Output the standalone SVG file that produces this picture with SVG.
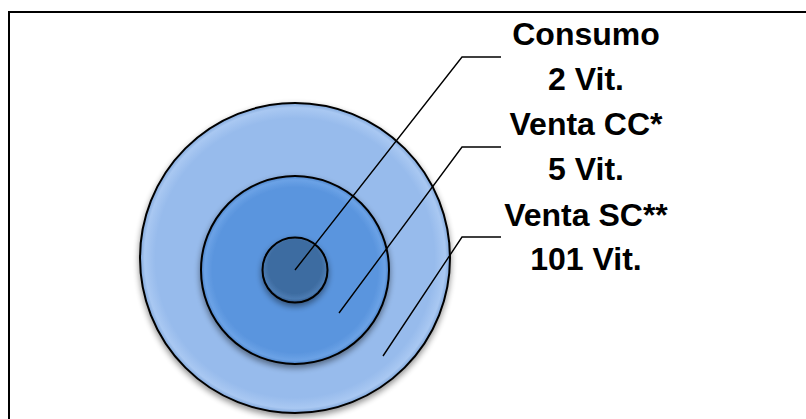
<svg xmlns="http://www.w3.org/2000/svg" width="806" height="419" viewBox="0 0 806 419">
  <style>
    .ring { stroke: #000; stroke-width: 2; }
    .lbl { font-family: "Liberation Sans", Arial, sans-serif; font-weight: bold; font-size: 32px; fill: #000; text-anchor: middle; }
    .conn { fill: none; stroke: #000; stroke-width: 1.4; }
    .frame { fill: none; stroke: #000; stroke-width: 2; }
  </style>
  <defs>
    <filter id="shadow" x="-20%" y="-20%" width="140%" height="140%">
      <feGaussianBlur in="SourceAlpha" stdDeviation="3"/>
      <feOffset dx="0" dy="3" result="b"/>
      <feComponentTransfer><feFuncA type="linear" slope="0.45"/></feComponentTransfer>
      <feMerge><feMergeNode/><feMergeNode in="SourceGraphic"/></feMerge>
    </filter>
    <radialGradient id="gOuter" cx="0.5" cy="0.5" r="0.5">
      <stop offset="0.9" stop-color="#97BBEC"/>
      <stop offset="0.97" stop-color="#A9C8F2"/>
      <stop offset="1" stop-color="#7FA6DA"/>
    </radialGradient>
    <radialGradient id="gMid" cx="0.5" cy="0.5" r="0.5">
      <stop offset="0.88" stop-color="#5A95DE"/>
      <stop offset="0.96" stop-color="#6BA2E6"/>
      <stop offset="1" stop-color="#4B82C8"/>
    </radialGradient>
    <radialGradient id="gInner" cx="0.5" cy="0.45" r="0.55">
      <stop offset="0.75" stop-color="#3E6CA1"/>
      <stop offset="0.9" stop-color="#4B7BB2"/>
      <stop offset="1" stop-color="#30588A"/>
    </radialGradient>
  </defs>
  <rect x="0" y="0" width="806" height="419" fill="#fff"/>
  <g id="frame">
    <polyline class="frame" points="9,419 9,12 806,12"/>
  </g>
  <g id="node-outer">
    <circle class="ring" cx="295" cy="258" r="155" fill="url(#gOuter)" filter="url(#shadow)"/>
  </g>
  <g id="node-middle">
    <circle class="ring" cx="295" cy="270" r="94" fill="url(#gMid)" filter="url(#shadow)"/>
  </g>
  <g id="node-inner">
    <circle class="ring" cx="295" cy="270" r="32.5" fill="url(#gInner)" filter="url(#shadow)"/>
  </g>
  <g id="connectors">
    <polyline class="conn" points="501,57 462,57 295,270"/>
    <polyline class="conn" points="501,147 462,147 339,313"/>
    <polyline class="conn" points="501,237 462,237 383,356"/>
  </g>
  <g id="label-consumo">
    <text class="lbl" x="586" y="45">Consumo</text>
    <text class="lbl" x="586" y="90">2 Vit.</text>
  </g>
  <g id="label-venta-cc">
    <text class="lbl" x="586" y="135">Venta CC*</text>
    <text class="lbl" x="586" y="180">5 Vit.</text>
  </g>
  <g id="label-venta-sc">
    <text class="lbl" x="586" y="226">Venta SC**</text>
    <text class="lbl" x="586" y="270">101 Vit.</text>
  </g>
</svg>
